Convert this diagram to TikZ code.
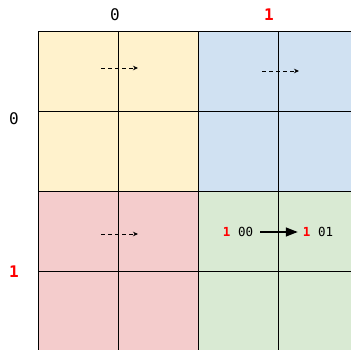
\documentclass[tikz,border=0pt]{standalone}
\usepackage{fontspec}
\setmonofont{DejaVu Sans Mono}
\usetikzlibrary{arrows.meta, positioning}
\definecolor{QYellow}{HTML}{FFF2CC}
\definecolor{QBlue}{HTML}{D0E1F2}
\definecolor{QRed}{HTML}{F4CCCC}
\definecolor{QGreen}{HTML}{D9EAD3}
\definecolor{BitRed}{HTML}{FF0000}

\tikzset{
  quad/.style={draw=black, line width=1pt, minimum width=160pt, minimum height=160pt,
               inner sep=0pt, anchor=north west},
  axislbl/.style={font=\ttfamily\fontsize{16}{16}\selectfont, inner sep=0pt},
  bitlbl/.style={font=\ttfamily\fontsize{12.5}{13}\selectfont, inner sep=1pt},
  movedash/.style={-{Stealth[length=5pt, width=4.5pt]}, dashed, dash pattern=on 4pt off 3pt, line width=0.8pt},
  movefull/.style={-{Triangle[length=12pt, width=9pt]}, line width=1.6pt, shorten <=6pt, shorten >=4pt}
}

\begin{document}
\begin{tikzpicture}[x=1pt, y=-1pt]
  \useasboundingbox (0,0) rectangle (351,350);

  % quadrants
  \node[quad, fill=QYellow] (q00) at (38,31) {};
  \node[quad, fill=QBlue]   (q01) at (198,31) {};
  \node[quad, fill=QRed]    (q10) at (38,191) {};
  \node[quad, fill=QGreen]  (q11) at (198,191) {};

  % inner grid lines
  \foreach \q in {q00,q01,q10,q11}{
    \draw[line width=1pt] (\q.north) -- (\q.south);
    \draw[line width=1pt] (\q.west) -- (\q.east);
  }

  % axis labels
  \node[axislbl] (c0) at (115,15) {0};
  \node[axislbl, text=BitRed, font=\ttfamily\bfseries\fontsize{16}{16}\selectfont] (c1) at (269,15) {1};
  \node[axislbl] (r0) at (14,119) {0};
  \node[axislbl, text=BitRed, font=\ttfamily\bfseries\fontsize{16}{16}\selectfont] (r1) at (14,272) {1};

  % dashed moves
  \coordinate (ya) at (101,68);  \coordinate (yb) at (138,68);
  \coordinate (ba) at (262,71);  \coordinate (bb) at (299,71);
  \coordinate (ra) at (101,234); \coordinate (rb) at (138,234);
  \draw[movedash] (ya) -- (yb);
  \draw[movedash] (ba) -- (bb);
  \draw[movedash] (ra) -- (rb);

  % green move
  \node[bitlbl] (from) at (238,232) {\textcolor{BitRed}{\bfseries 1} 00};
  \node[bitlbl] (to) at (318,232) {\textcolor{BitRed}{\bfseries 1} 01};
  \draw[movefull] (from) -- (to);
\end{tikzpicture}
\end{document}
